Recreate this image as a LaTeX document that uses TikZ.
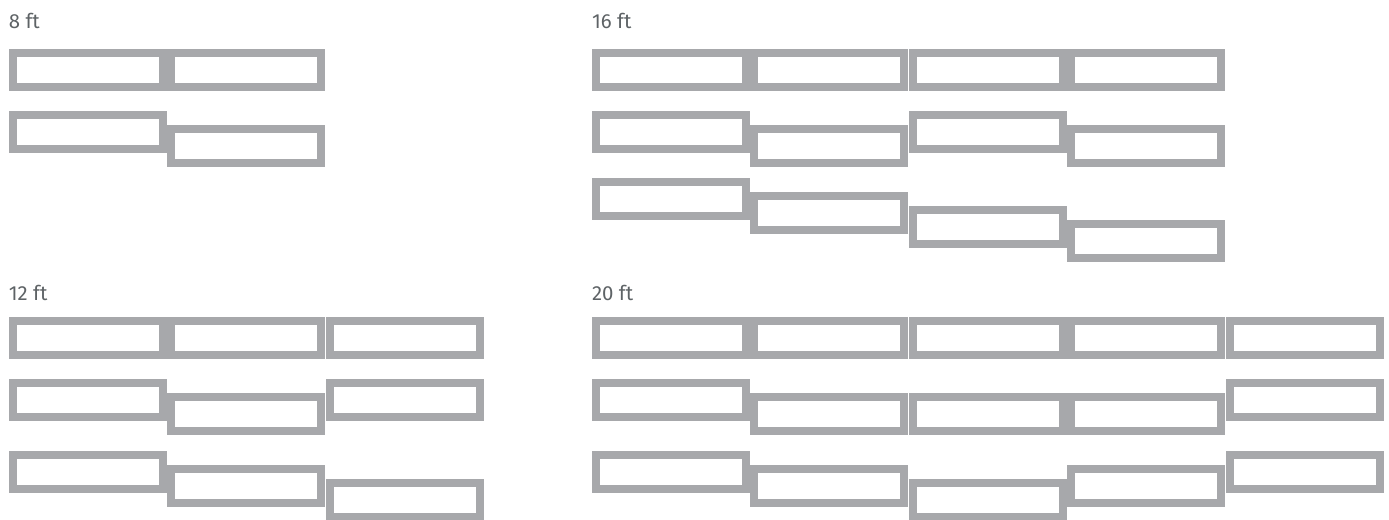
\documentclass[tikz,border=0pt]{standalone}
\usepackage{fontspec}
\setmainfont{Fira Sans}
\definecolor{slabgray}{HTML}{A7A8AB}
\definecolor{labelgray}{HTML}{5E6366}

\begin{document}
\begin{tikzpicture}[
    x=0.5pt, y=-0.5pt,
    slab/.style={rectangle, draw=slabgray, fill=white, line width=4pt,
        minimum width=75pt, minimum height=17pt, inner sep=0pt},
    caption/.style={anchor=base west, inner sep=0pt, text=labelgray,
        font=\fontsize{10.2}{12}\selectfont}
]
\useasboundingbox (0,0) rectangle (1389,520);

% Top left: 8 ft
\begin{scope}[shift={(8.5,0)}]
    \node[caption] (t8) at (0,28) {8 ft};
    \foreach \dy [count=\i] in {0,0}
        \node[slab] (e\i) at ({158.5*\i-79.25},{70+\dy}) {};
    \foreach \dy [count=\i] in {0,14}
        \node[slab] (f\i) at ({158.5*\i-79.25},{132+\dy}) {};
\end{scope}

% Top right: 16 ft
\begin{scope}[shift={(591.7,0)}]
    \node[caption] (t16) at (0,28) {16 ft};
    \foreach \dy [count=\i] in {0,0,0,0}
        \node[slab] (s\i) at ({158.5*\i-79.25},{70+\dy}) {};
    \foreach \dy [count=\i] in {0,14,0,14}
        \node[slab] (u\i) at ({158.5*\i-79.25},{132+\dy}) {};
    \foreach \dy [count=\i] in {0,14,28,42}
        \node[slab] (v\i) at ({158.5*\i-79.25},{199+\dy}) {};
\end{scope}

% Bottom left: 12 ft
\begin{scope}[shift={(8.5,0)}]
    \node[caption] (t12) at (0,300) {12 ft};
    \foreach \dy [count=\i] in {0,0,0}
        \node[slab] (a\i) at ({158.5*\i-79.25},{338+\dy}) {};
    \foreach \dy [count=\i] in {0,14,0}
        \node[slab] (b\i) at ({158.5*\i-79.25},{400+\dy}) {};
    \foreach \dy [count=\i] in {0,14,28}
        \node[slab] (c\i) at ({158.5*\i-79.25},{472+\dy}) {};
\end{scope}

% Bottom right: 20 ft
\begin{scope}[shift={(591.7,0)}]
    \node[caption] (t20) at (0,300) {20 ft};
    \foreach \dy [count=\i] in {0,0,0,0,0}
        \node[slab] (w\i) at ({158.5*\i-79.25},{338+\dy}) {};
    \foreach \dy [count=\i] in {0,14,14,14,0}
        \node[slab] (x\i) at ({158.5*\i-79.25},{400+\dy}) {};
    \foreach \dy [count=\i] in {0,14,28,14,0}
        \node[slab] (z\i) at ({158.5*\i-79.25},{472+\dy}) {};
\end{scope}

\end{tikzpicture}
\end{document}
